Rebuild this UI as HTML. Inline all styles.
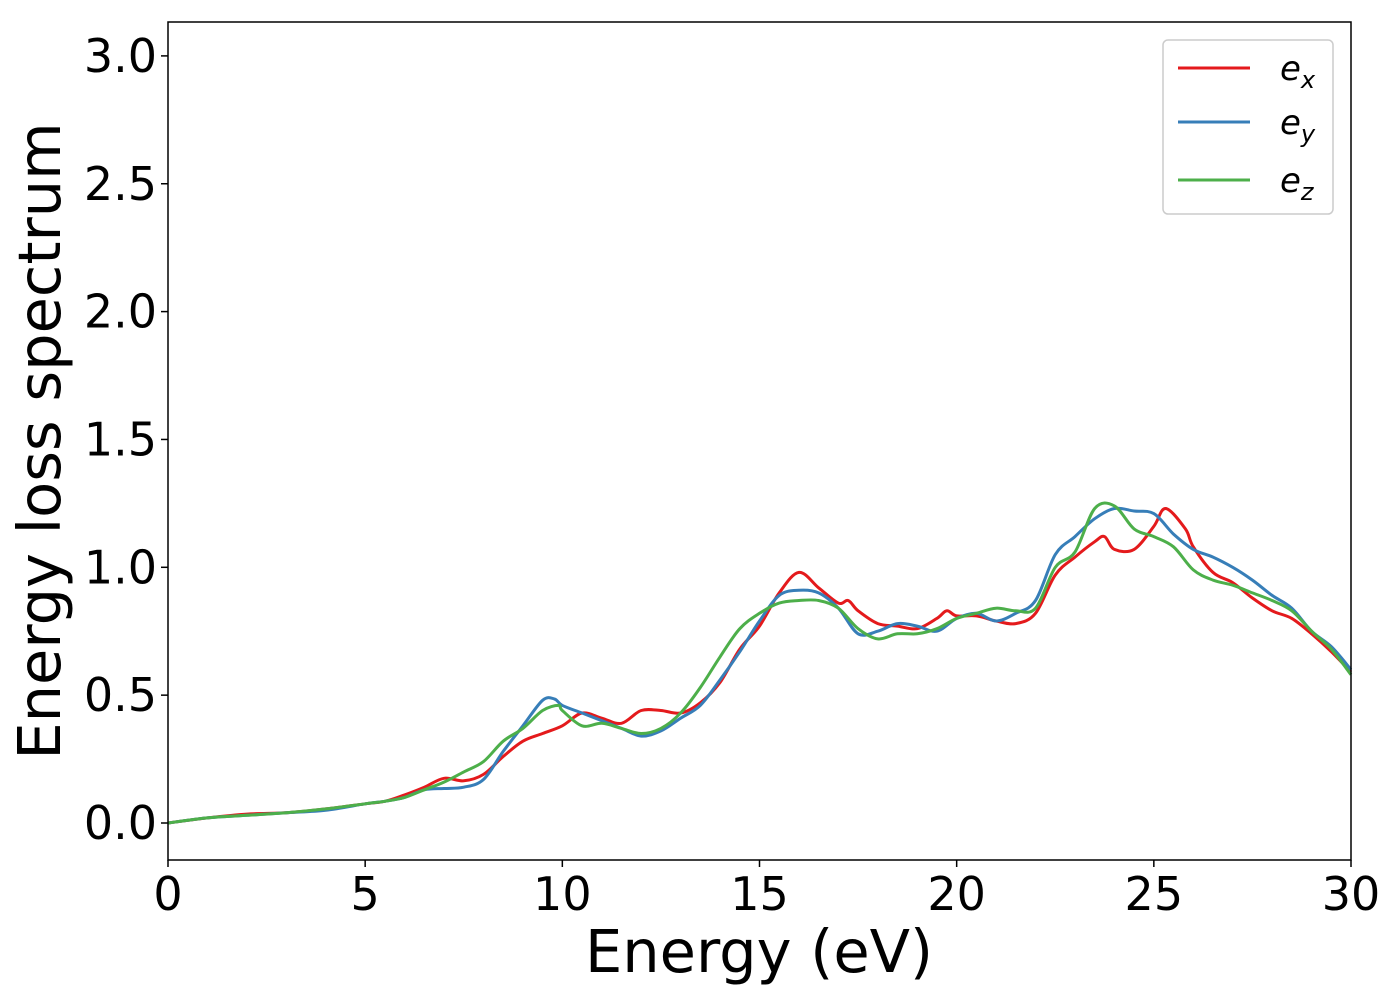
<!DOCTYPE html>
<html><head><meta charset="utf-8"><style>
html,body{margin:0;padding:0;background:#fff}
svg{display:block;font-family:"DejaVu Sans","Liberation Sans",sans-serif}
</style></head><body>
<svg id="chart" width="1400" height="1000" viewBox="0 0 1400 1000">
<rect x="0" y="0" width="1400" height="1000" fill="#fff"/>
<g id="series"></g>
<rect x="168" y="22" width="1183" height="838" fill="none" stroke="#000" stroke-width="1.5"/>
<g id="xticks"></g>
<g id="yticks"></g>
<text x="759" y="972" font-size="59" text-anchor="middle">Energy (eV)</text>
<text transform="translate(60,441) rotate(-90)" font-size="59" text-anchor="middle">Energy loss spectrum</text>
<g>
<rect x="1163" y="40" width="170" height="174" rx="5" fill="#fff" stroke="#ccc" stroke-width="1.5"/>
<g><line x1="1178" y1="68" x2="1250" y2="68" stroke="#e41a1c" stroke-width="3"/><text x="1280" y="80" font-size="34" font-style="italic">e<tspan font-size="24" dy="8">x</tspan></text></g>
<g><line x1="1178" y1="122" x2="1250" y2="122" stroke="#377eb8" stroke-width="3"/><text x="1280" y="134" font-size="34" font-style="italic">e<tspan font-size="24" dy="8">y</tspan></text></g>
<g><line x1="1178" y1="180" x2="1250" y2="180" stroke="#4daf4a" stroke-width="3"/><text x="1280" y="192" font-size="34" font-style="italic">e<tspan font-size="24" dy="8">z</tspan></text></g>
</g>
</svg>
<script>
const exE=[0,1,2,3,4,5,5.5,6,6.5,7,7.5,8,8.5,9,9.5,10,10.5,11,11.5,12,12.5,13,13.5,14,14.5,15,15.5,16,16.5,17,17.25,17.5,18,18.5,19,19.5,19.75,20,20.5,21,21.5,22,22.5,23,23.5,23.75,24,24.5,25,25.3,25.8,26,26.5,27,27.5,28,28.5,29,29.5,30];
const exV=[0,0.02,0.035,0.04,0.055,0.075,0.085,0.11,0.14,0.175,0.165,0.19,0.26,0.32,0.35,0.38,0.43,0.41,0.39,0.44,0.44,0.43,0.47,0.55,0.68,0.77,0.9,0.98,0.92,0.86,0.87,0.83,0.78,0.77,0.76,0.8,0.83,0.81,0.81,0.79,0.78,0.82,0.97,1.04,1.1,1.12,1.07,1.07,1.16,1.23,1.15,1.08,0.98,0.94,0.88,0.83,0.8,0.74,0.67,0.59];
const eyE=[0,1,2,3,4,5,5.5,6,6.5,7,7.5,8,8.5,9,9.5,9.8,10,10.5,11,11.5,12,12.5,13,13.5,14,14.5,15,15.5,16,16.5,17,17.5,18,18.5,19,19.5,20,20.5,21,21.5,22,22.5,23,23.5,24,24.5,25,25.5,26,26.5,27,27.5,28,28.5,29,29.5,30];
const eyV=[0,0.02,0.03,0.04,0.05,0.075,0.085,0.1,0.13,0.135,0.14,0.17,0.28,0.38,0.48,0.485,0.46,0.43,0.4,0.37,0.34,0.36,0.41,0.46,0.56,0.67,0.79,0.89,0.91,0.9,0.84,0.74,0.75,0.78,0.77,0.75,0.8,0.82,0.79,0.82,0.87,1.05,1.12,1.19,1.23,1.22,1.21,1.13,1.07,1.04,1.0,0.95,0.89,0.84,0.75,0.69,0.6];
const ezE=[0,1,2,3,4,5,5.5,6,6.5,7,7.5,8,8.5,9,9.5,9.9,10,10.5,11,11.5,12,12.5,13,13.5,14,14.5,15,15.5,16,16.5,17,17.5,18,18.5,19,19.5,20,20.5,21,21.5,22,22.5,23,23.5,24,24.5,25,25.5,26,26.5,27,27.5,28,28.5,29,29.5,30];
const ezV=[0,0.02,0.03,0.04,0.055,0.075,0.085,0.1,0.13,0.16,0.2,0.24,0.32,0.37,0.44,0.46,0.44,0.38,0.39,0.37,0.35,0.37,0.43,0.53,0.65,0.76,0.82,0.86,0.87,0.87,0.84,0.76,0.72,0.74,0.74,0.76,0.8,0.82,0.84,0.83,0.84,1.0,1.06,1.23,1.24,1.15,1.12,1.08,0.99,0.95,0.93,0.9,0.87,0.83,0.75,0.68,0.58];
const xTicks=[0,5,10,15,20,25,30];
const yTicks=[0.0,0.5,1.0,1.5,2.0,2.5,3.0];
const xs=e=>168+e*(1183/30);
const ys=v=>823-v*255.7;
const NS="http://www.w3.org/2000/svg";
function path(E,V){
  const p=E.map((e,i)=>[xs(e),ys(V[i])]);
  let d="M"+p[0][0].toFixed(1)+","+p[0][1].toFixed(1);
  for(let i=0;i<p.length-1;i++){
    const p0=p[i-1]||p[i],p1=p[i],p2=p[i+1],p3=p[i+2]||p2;
    const c1=[p1[0]+(p2[0]-p0[0])/6,p1[1]+(p2[1]-p0[1])/6];
    const c2=[p2[0]-(p3[0]-p1[0])/6,p2[1]-(p3[1]-p1[1])/6];
    d+=" C"+c1.map(n=>n.toFixed(1))+" "+c2.map(n=>n.toFixed(1))+" "+p2.map(n=>n.toFixed(1));
  }
  return d;
}
const g=document.getElementById("series");
[[exE,exV,"#e41a1c","line-ex"],[eyE,eyV,"#377eb8","line-ey"],[ezE,ezV,"#4daf4a","line-ez"]].forEach(s=>{
  const el=document.createElementNS(NS,"path");
  el.setAttribute("d",path(s[0],s[1]));
  el.setAttribute("fill","none");el.setAttribute("stroke",s[2]);el.setAttribute("stroke-width","3");
  
  
  g.appendChild(el);
});
const gx=document.getElementById("xticks");
xTicks.forEach(t=>{
  const l=document.createElementNS(NS,"line");
  l.setAttribute("x1",xs(t));l.setAttribute("x2",xs(t));l.setAttribute("y1",860);l.setAttribute("y2",867);l.setAttribute("stroke","#000");l.setAttribute("stroke-width","1.5");
  
  
  gx.appendChild(l);
  const tx=document.createElementNS(NS,"text");
  tx.setAttribute("x",xs(t));tx.setAttribute("y",910);tx.setAttribute("font-size","46");tx.setAttribute("text-anchor","middle");
  tx.textContent=t;
  
  
  gx.appendChild(tx);
});
const gy=document.getElementById("yticks");
yTicks.forEach(t=>{
  const l=document.createElementNS(NS,"line");
  l.setAttribute("x1",161);l.setAttribute("x2",168);l.setAttribute("y1",ys(t));l.setAttribute("y2",ys(t));l.setAttribute("stroke","#000");l.setAttribute("stroke-width","1.5");
  
  
  gy.appendChild(l);
  const tx=document.createElementNS(NS,"text");
  tx.setAttribute("x",157);tx.setAttribute("y",ys(t)+16);tx.setAttribute("font-size","46");tx.setAttribute("text-anchor","end");
  tx.textContent=t.toFixed(1);
  
  
  gy.appendChild(tx);
});
</script>
</body></html>
